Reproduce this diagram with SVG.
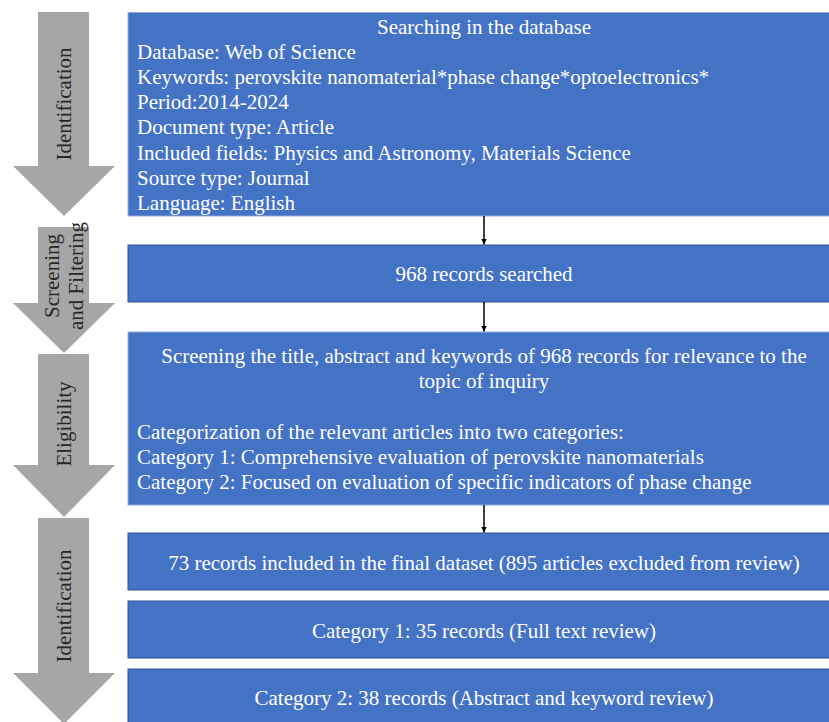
<svg xmlns="http://www.w3.org/2000/svg" width="829" height="722" viewBox="0 0 829 722">
<defs>
<style>
.box{fill:#4472C4;stroke:#2F528F;stroke-width:1}
.boxl{fill:#4472C4;stroke:#8FAADC;stroke-width:1}
.t{font-family:"Liberation Serif","Times New Roman",serif;font-size:21px;fill:#FFFFFF}
.c{text-anchor:middle}
.stage{fill:#A6A6A6}
.st{font-family:"Liberation Serif","Times New Roman",serif;font-size:21px;fill:#262626;text-anchor:middle}
.conn{stroke:#000000;stroke-width:1.5;fill:none}
</style>
<marker id="ah" viewBox="0 0 10 10" refX="10" refY="5" markerWidth="4" markerHeight="4" orient="auto" markerUnits="strokeWidth">
<path d="M0,0 L10,5 L0,10 z" fill="#000000"/>
</marker>
</defs>
<rect width="829" height="722" fill="#FFFFFF"/>

<g id="stage-identification-1">
<polygon class="stage" points="38,12 89,12 89,166 115,166 64,216 13,166 38,166"/>
<text class="st" transform="translate(71,104) rotate(-90)">Identification</text>
</g>
<g id="stage-screening">
<polygon class="stage" points="38,227 89,227 89,303 115,303 64,353 13,303 38,303"/>
<text class="st" transform="translate(59,276) rotate(-90)">Screening</text>
<text class="st" transform="translate(83,276) rotate(-90)">and Filtering</text>
</g>
<g id="stage-eligibility">
<polygon class="stage" points="38,354 89,354 89,465 115,465 64,517 13,465 38,465"/>
<text class="st" transform="translate(71,424) rotate(-90)">Eligibility</text>
</g>
<g id="stage-identification-2">
<polygon class="stage" points="38,518 89,518 89,673 115,673 64,724 13,673 38,673"/>
<text class="st" transform="translate(71,606) rotate(-90)">Identification</text>
</g>

<g id="node-search">
<rect class="boxl" x="128" y="12.5" width="715" height="203.5"/>
<text class="t c" x="484" y="34">Searching in the database</text>
<text class="t" x="137" y="59">Database: Web of Science</text>
<text class="t" x="137" y="84">Keywords: perovskite nanomaterial*phase change*optoelectronics*</text>
<text class="t" x="137" y="109">Period:2014-2024</text>
<text class="t" x="137" y="134">Document type: Article</text>
<text class="t" x="137" y="160">Included fields: Physics and Astronomy, Materials Science</text>
<text class="t" x="137" y="185">Source type: Journal</text>
<text class="t" x="137" y="210">Language: English</text>
</g>

<g id="node-searched">
<rect class="box" x="128" y="245" width="715" height="57"/>
<text class="t c" x="484" y="281">968 records searched</text>
</g>

<g id="node-screening">
<rect class="boxl" x="128" y="332" width="715" height="173"/>
<text class="t c" x="484" y="363">Screening the title, abstract and keywords of 968 records for relevance to the</text>
<text class="t c" x="484" y="388">topic of inquiry</text>
<text class="t" x="137" y="439">Categorization of the relevant articles into two categories:</text>
<text class="t" x="137" y="464">Category 1: Comprehensive evaluation of perovskite nanomaterials</text>
<text class="t" x="137" y="489">Category 2: Focused on evaluation of specific indicators of phase change</text>
</g>

<g id="node-included">
<rect class="box" x="128" y="533" width="715" height="57"/>
<text class="t c" x="484" y="570">73 records included in the final dataset (895 articles excluded from review)</text>
</g>

<g id="node-category1">
<rect class="box" x="128" y="601" width="715" height="57"/>
<text class="t c" x="484" y="638">Category 1: 35 records (Full text review)</text>
</g>

<g id="node-category2">
<rect class="box" x="128" y="669" width="715" height="60"/>
<text class="t c" x="484" y="705">Category 2: 38 records (Abstract and keyword review)</text>
</g>

<g id="connectors">
<line class="conn" x1="484" y1="216" x2="484" y2="244.5" marker-end="url(#ah)"/>
<line class="conn" x1="484" y1="302" x2="484" y2="331.5" marker-end="url(#ah)"/>
<line class="conn" x1="484" y1="505" x2="484" y2="532.5" marker-end="url(#ah)"/>
</g>
</svg>
